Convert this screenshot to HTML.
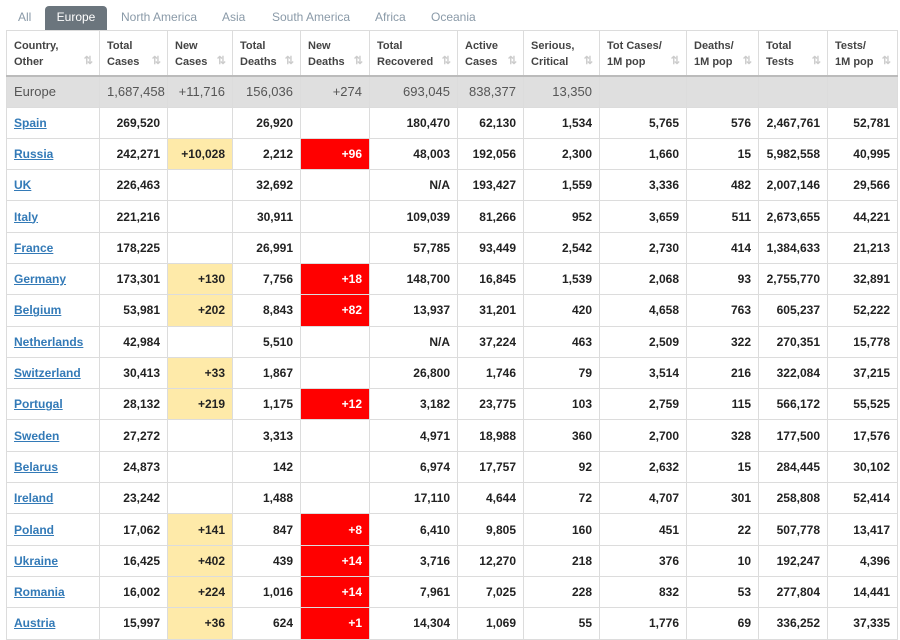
<!DOCTYPE html>
<html><head><meta charset="utf-8"><style>
body{margin:0;background:#fff;width:900px;height:640px;overflow:hidden;font-family:"Liberation Sans",Arial,sans-serif;}
.tabs{position:absolute;left:0;top:6px;height:24px;font-size:12px;color:#8a9aa8;}
.tabs span{position:absolute;top:0;height:24px;line-height:23px;white-space:nowrap;}
.tabs .act{background:#6b757d;color:#fff;border-radius:4px 4px 0 0;text-align:center;}
table{position:absolute;left:6px;top:30px;border-collapse:collapse;table-layout:fixed;width:891px;}
td,th{border:1px solid #dcdcdc;padding:0 7px;font-size:12px;overflow:hidden;white-space:nowrap;}
th{height:37px;text-align:left;font-size:11px;color:#444;vertical-align:top;padding-top:7px;padding-bottom:0;line-height:16px;position:relative;}
th i{position:absolute;right:6px;bottom:6px;font-style:normal;color:#ccc;font-size:11px;}
thead tr{border-bottom:2px solid #bbb;}
td{height:30.3px;text-align:right;font-weight:bold;color:#222;}
td:first-child{text-align:left;}
td a{color:#337ab7;text-decoration:underline;}
tr.tot td{background:#dfdfdf;font-weight:normal;color:#555;font-size:13px;height:29.5px;}
.y{background:#feeaa9;}
.r{background:#ff0000;color:#fff;}
</style></head><body>
<div class="tabs">
<span style="left:18px">All</span>
<span class="act" style="left:45px;width:62px">Europe</span>
<span style="left:121px">North America</span>
<span style="left:222px">Asia</span>
<span style="left:272px">South America</span>
<span style="left:375px">Africa</span>
<span style="left:431px">Oceania</span>
</div>
<table>
<colgroup><col style="width:93px"><col style="width:68px"><col style="width:65px"><col style="width:68px"><col style="width:69px"><col style="width:88px"><col style="width:66px"><col style="width:76px"><col style="width:87px"><col style="width:72px"><col style="width:69px"><col style="width:70px"></colgroup>
<thead><tr>
<th>Country,<br>Other<i>⇅</i></th><th>Total<br>Cases<i>⇅</i></th><th>New<br>Cases<i>⇅</i></th><th>Total<br>Deaths<i>⇅</i></th><th>New<br>Deaths<i>⇅</i></th><th>Total<br>Recovered<i>⇅</i></th><th>Active<br>Cases<i>⇅</i></th><th>Serious,<br>Critical<i>⇅</i></th><th>Tot Cases/<br>1M pop<i>⇅</i></th><th>Deaths/<br>1M pop<i>⇅</i></th><th>Total<br>Tests<i>⇅</i></th><th>Tests/<br>1M pop<i>⇅</i></th>
</tr></thead>
<tbody>
<tr class="tot"><td>Europe</td><td>1,687,458</td><td>+11,716</td><td>156,036</td><td>+274</td><td>693,045</td><td>838,377</td><td>13,350</td><td></td><td></td><td></td><td></td></tr>
<tr><td><a>Spain</a></td><td>269,520</td><td></td><td>26,920</td><td></td><td>180,470</td><td>62,130</td><td>1,534</td><td>5,765</td><td>576</td><td>2,467,761</td><td>52,781</td></tr>
<tr><td><a>Russia</a></td><td>242,271</td><td class="y">+10,028</td><td>2,212</td><td class="r">+96</td><td>48,003</td><td>192,056</td><td>2,300</td><td>1,660</td><td>15</td><td>5,982,558</td><td>40,995</td></tr>
<tr><td><a>UK</a></td><td>226,463</td><td></td><td>32,692</td><td></td><td>N/A</td><td>193,427</td><td>1,559</td><td>3,336</td><td>482</td><td>2,007,146</td><td>29,566</td></tr>
<tr><td><a>Italy</a></td><td>221,216</td><td></td><td>30,911</td><td></td><td>109,039</td><td>81,266</td><td>952</td><td>3,659</td><td>511</td><td>2,673,655</td><td>44,221</td></tr>
<tr><td><a>France</a></td><td>178,225</td><td></td><td>26,991</td><td></td><td>57,785</td><td>93,449</td><td>2,542</td><td>2,730</td><td>414</td><td>1,384,633</td><td>21,213</td></tr>
<tr><td><a>Germany</a></td><td>173,301</td><td class="y">+130</td><td>7,756</td><td class="r">+18</td><td>148,700</td><td>16,845</td><td>1,539</td><td>2,068</td><td>93</td><td>2,755,770</td><td>32,891</td></tr>
<tr><td><a>Belgium</a></td><td>53,981</td><td class="y">+202</td><td>8,843</td><td class="r">+82</td><td>13,937</td><td>31,201</td><td>420</td><td>4,658</td><td>763</td><td>605,237</td><td>52,222</td></tr>
<tr><td><a>Netherlands</a></td><td>42,984</td><td></td><td>5,510</td><td></td><td>N/A</td><td>37,224</td><td>463</td><td>2,509</td><td>322</td><td>270,351</td><td>15,778</td></tr>
<tr><td><a>Switzerland</a></td><td>30,413</td><td class="y">+33</td><td>1,867</td><td></td><td>26,800</td><td>1,746</td><td>79</td><td>3,514</td><td>216</td><td>322,084</td><td>37,215</td></tr>
<tr><td><a>Portugal</a></td><td>28,132</td><td class="y">+219</td><td>1,175</td><td class="r">+12</td><td>3,182</td><td>23,775</td><td>103</td><td>2,759</td><td>115</td><td>566,172</td><td>55,525</td></tr>
<tr><td><a>Sweden</a></td><td>27,272</td><td></td><td>3,313</td><td></td><td>4,971</td><td>18,988</td><td>360</td><td>2,700</td><td>328</td><td>177,500</td><td>17,576</td></tr>
<tr><td><a>Belarus</a></td><td>24,873</td><td></td><td>142</td><td></td><td>6,974</td><td>17,757</td><td>92</td><td>2,632</td><td>15</td><td>284,445</td><td>30,102</td></tr>
<tr><td><a>Ireland</a></td><td>23,242</td><td></td><td>1,488</td><td></td><td>17,110</td><td>4,644</td><td>72</td><td>4,707</td><td>301</td><td>258,808</td><td>52,414</td></tr>
<tr><td><a>Poland</a></td><td>17,062</td><td class="y">+141</td><td>847</td><td class="r">+8</td><td>6,410</td><td>9,805</td><td>160</td><td>451</td><td>22</td><td>507,778</td><td>13,417</td></tr>
<tr><td><a>Ukraine</a></td><td>16,425</td><td class="y">+402</td><td>439</td><td class="r">+14</td><td>3,716</td><td>12,270</td><td>218</td><td>376</td><td>10</td><td>192,247</td><td>4,396</td></tr>
<tr><td><a>Romania</a></td><td>16,002</td><td class="y">+224</td><td>1,016</td><td class="r">+14</td><td>7,961</td><td>7,025</td><td>228</td><td>832</td><td>53</td><td>277,804</td><td>14,441</td></tr>
<tr><td><a>Austria</a></td><td>15,997</td><td class="y">+36</td><td>624</td><td class="r">+1</td><td>14,304</td><td>1,069</td><td>55</td><td>1,776</td><td>69</td><td>336,252</td><td>37,335</td></tr>
</tbody></table>
</body></html>
